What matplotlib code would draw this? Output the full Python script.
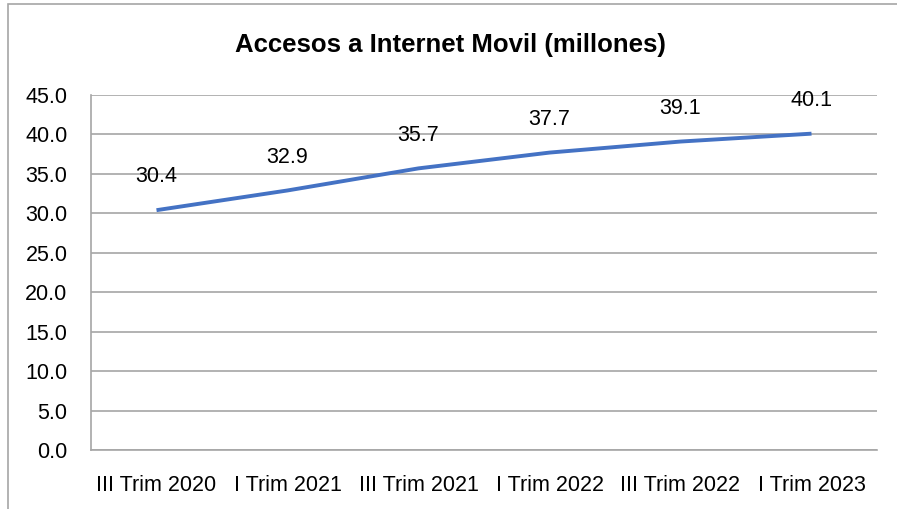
import matplotlib
matplotlib.use('Agg')
import matplotlib.pyplot as plt
from matplotlib.patches import Rectangle

# datos
trimestres = ["III Trim 2020", "I Trim 2021", "III Trim 2021",
              "I Trim 2022", "III Trim 2022", "I Trim 2023"]
accesos = [30.4, 32.9, 35.7, 37.7, 39.1, 40.1]
y_ticks = [0, 5, 10, 15, 20, 25, 30, 35, 40, 45]

plt.rcParams['font.family'] = ['Liberation Sans Narrow', 'Liberation Sans', 'DejaVu Sans']

W, H = 897, 509
fig = plt.figure(figsize=(W / 100, H / 100), dpi=100)
fig.patch.set_facecolor('white')

# marco gris del grafico
fig.add_artist(Rectangle((8 / W, -0.1), 1.2, 1.1 - 4 / H, transform=fig.transFigure,
                         fill=False, edgecolor='#a6a6a6', linewidth=1.2))

ax = fig.add_axes([91 / W, 1 - 450 / H, (877 - 91) / W, (450 - 95) / H])
x = list(range(len(trimestres)))
ax.plot(x, accesos, color='#4472c4', linewidth=2.8, solid_capstyle='butt')

for xi, v in zip(x, accesos):
    ax.annotate(f"{v:.1f}", (xi, v), xytext=(0, 24), textcoords='offset points',
                ha='center', va='center', fontsize=15.5, color='black')

ax.set_xlim(-0.5, len(trimestres) - 0.5)
ax.set_ylim(0, 45)
ax.set_yticks(y_ticks)
ax.set_yticklabels([f"{t:.1f}" for t in y_ticks], fontsize=15.5)
ax.set_xticks(x)
ax.set_xticklabels(trimestres, fontsize=15.5)
ax.tick_params(axis='y', length=0, pad=17)
ax.tick_params(axis='x', length=0, pad=18)

ax.grid(axis='y', color='#a6a6a6', linewidth=1.2)
ax.set_axisbelow(True)
for s in ['top', 'right']:
    ax.spines[s].set_visible(False)
for s in ['left', 'bottom']:
    ax.spines[s].set_color('#a6a6a6')
    ax.spines[s].set_linewidth(1.2)

fig.text(450 / W, 1 - 45 / H, "Accesos a Internet Movil (millones)", ha='center', va='center',
         fontsize=18.5, fontweight='bold')

fig.savefig('out.png', dpi=100)
